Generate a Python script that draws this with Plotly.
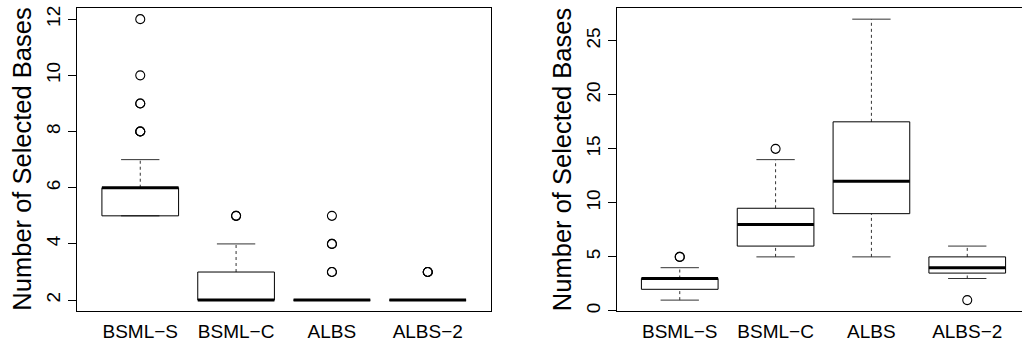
import plotly.graph_objects as go

# Method names shown on the x axes of both panels
methods = ["BSML−S", "BSML−C", "ALBS", "ALBS−2"]

# Left panel: five-number summaries and outliers per method
left_lower = [5, 2, 2, 2]
left_q1 = [5, 2, 2, 2]
left_median = [6, 2, 2, 2]
left_q3 = [6, 3, 2, 2]
left_upper = [7, 4, 2, 2]
left_outliers = [[8, 8, 8, 9, 9, 10, 12], [5, 5], [3, 3, 4, 4, 5], [3, 3, 3]]
left_ticks = [2, 4, 6, 8, 10, 12]

# Right panel: five-number summaries and outliers per method
right_lower = [1, 5, 5, 3]
right_q1 = [2, 6, 9, 3.5]
right_median = [3, 8, 12, 4]
right_q3 = [3, 9.5, 17.5, 5]
right_upper = [4, 14, 27, 6]
right_outliers = [[5, 5], [15], [], [1]]
right_ticks = [0, 5, 10, 15, 20, 25]

y_title = "Number of Selected Bases"

FONT = "Liberation Sans, Arial, Helvetica, sans-serif"
BOX_HALF = 0.4      # half of the box width (x units)
CAP_HALF = 0.2      # half of the whisker cap width

W, H = 1022, 343
# plot area geometry in pixels
PLOT_TOP, PLOT_BOTTOM = 6, 313
LEFT_X0, LEFT_X1 = 77, 491
RIGHT_X0 = 616.5
X_LO, X_HI = 0.34, 4.66
px_per_unit = (LEFT_X1 - LEFT_X0) / (X_HI - X_LO)

fig = go.Figure()


def add_boxes(lower, q1, med, q3, upper, outliers, xa, ya):
    pos = list(range(1, len(med) + 1))
    wx, wy, cx, cy, bx, by, mx, my, ox, oy = [], [], [], [], [], [], [], [], [], []
    for p, lo, a, m, b, hi, outs in zip(pos, lower, q1, med, q3, upper, outliers):
        # dashed whiskers
        wx += [p, p, None, p, p, None]
        wy += [b, hi, None, lo, a, None]
        # staples
        cx += [p - CAP_HALF, p + CAP_HALF, None, p - CAP_HALF, p + CAP_HALF, None]
        cy += [hi, hi, None, lo, lo, None]
        # box outline
        bx += [p - BOX_HALF, p + BOX_HALF, p + BOX_HALF, p - BOX_HALF, p - BOX_HALF, None]
        by += [a, a, b, b, a, None]
        # median bar
        mx += [p - BOX_HALF, p + BOX_HALF, None]
        my += [m, m, None]
        ox += [p] * len(outs)
        oy += list(outs)
    common = dict(xaxis=xa, yaxis=ya, hoverinfo="skip", showlegend=False, mode="lines")
    fig.add_trace(go.Scatter(x=wx, y=wy, line=dict(color="#333333", width=1, dash="3px,3px"), **common))
    fig.add_trace(go.Scatter(x=cx, y=cy, line=dict(color="#333333", width=1), **common))
    fig.add_trace(go.Scatter(x=bx, y=by, line=dict(color="black", width=1), **common))
    fig.add_trace(go.Scatter(x=mx, y=my, line=dict(color="black", width=3), **common))
    fig.add_trace(go.Scatter(
        x=ox, y=oy, mode="markers", xaxis=xa, yaxis=ya, hoverinfo="skip", showlegend=False,
        marker=dict(symbol="circle-open", size=9, color="black", line=dict(width=1.1, color="black")),
    ))


add_boxes(left_lower, left_q1, left_median, left_q3, left_upper, left_outliers, "x", "y")
add_boxes(right_lower, right_q1, right_median, right_q3, right_upper, right_outliers, "x2", "y2")

y_dom = [(H - PLOT_BOTTOM) / H, (H - PLOT_TOP) / H]
tick_font = dict(family=FONT, size=19, color="black")

xcommon = dict(
    tickmode="array", tickvals=[1, 2, 3, 4], ticktext=methods, ticks="",
    showline=True, linecolor="black", linewidth=1, showgrid=False, zeroline=False,
    tickfont=tick_font, fixedrange=True, ticklabelstandoff=3,
)
ycommon = dict(
    tickmode="array", ticks="outside", ticklen=8, tickcolor="black", tickwidth=1,
    tickangle=-90, showline=True, linecolor="black", linewidth=1,
    showgrid=False, zeroline=False, tickfont=tick_font, domain=y_dom, fixedrange=True,
)

right_x_hi = X_LO + (W - RIGHT_X0) / px_per_unit

fig.update_layout(
    width=W, height=H,
    margin=dict(l=0, r=0, t=0, b=0),
    paper_bgcolor="white", plot_bgcolor="white",
    font=dict(family=FONT, color="black"),
    xaxis=dict(domain=[LEFT_X0 / W, LEFT_X1 / W], range=[X_LO, X_HI], mirror=True,
               anchor="y", **xcommon),
    yaxis=dict(range=[1.6, 12.4], tickvals=left_ticks, mirror=True, anchor="x", **ycommon),
    xaxis2=dict(domain=[RIGHT_X0 / W, 1.0], range=[X_LO, right_x_hi], mirror=True,
                anchor="y2", **xcommon),
    yaxis2=dict(range=[-0.04, 28.04], tickvals=right_ticks, mirror=False, anchor="x2",
                **ycommon),
)

title_y = (H - (PLOT_TOP + PLOT_BOTTOM) / 2) / H
for xc in (LEFT_X0 - 55, RIGHT_X0 - 55):
    fig.add_annotation(
        text=y_title, xref="paper", yref="paper", x=xc / W, y=title_y,
        xanchor="center", yanchor="middle", textangle=-90, showarrow=False,
        font=dict(family=FONT, size=25.5, color="black"),
    )

fig.write_html("out.html", config={"displayModeBar": False})
